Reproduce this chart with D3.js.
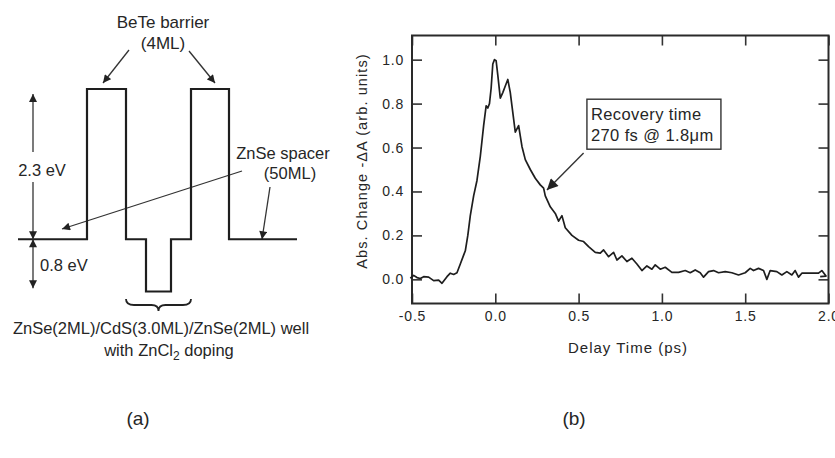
<!doctype html>
<html>
<head>
<meta charset="utf-8">
<title></title>
<style>
body{ margin:0; background:#fff; }
svg{ display:block; }
text{ font-family:"Liberation Sans", Arial, sans-serif; fill:#262626; }
</style>
</head>
<body>
<svg></svg>
<script src="https://cdn.jsdelivr.net/npm/d3@7/dist/d3.min.js"></script>
<script>
var width = 835, height = 458;

// (b) absorption change vs delay time
var delay = [-0.51,-0.49,-0.47,-0.45,-0.43,-0.40,-0.37,-0.34,-0.32,-0.29,-0.27,-0.25,-0.23,-0.21,-0.19,-0.18,-0.165,-0.15,-0.13,-0.11,-0.09,-0.07,-0.055,-0.045,-0.035,-0.025,-0.015,-0.005,0.005,0.015,0.03,0.045,0.06,0.075,0.09,0.10,0.12,0.14,0.16,0.18,0.21,0.24,0.27,0.29,0.30,0.33,0.36,0.38,0.40,0.42,0.46,0.50,0.53,0.56,0.60,0.63,0.65,0.68,0.71,0.73,0.76,0.79,0.82,0.85,0.88,0.91,0.94,0.96,0.99,1.02,1.06,1.10,1.14,1.17,1.20,1.23,1.25,1.28,1.31,1.34,1.38,1.42,1.46,1.50,1.53,1.55,1.58,1.61,1.63,1.65,1.69,1.72,1.75,1.78,1.80,1.82,1.84,1.90,1.94,1.96,1.985,1.95];
var absChange = [0.005,0.018,0.008,0.004,0.012,0.01,-0.006,-0.004,-0.018,0.012,0.028,0.022,0.03,0.07,0.11,0.13,0.2,0.29,0.38,0.45,0.56,0.70,0.79,0.78,0.80,0.87,0.98,1.0,0.995,0.93,0.825,0.85,0.88,0.91,0.85,0.79,0.67,0.70,0.605,0.545,0.50,0.46,0.43,0.415,0.38,0.33,0.30,0.265,0.29,0.235,0.20,0.178,0.172,0.149,0.123,0.119,0.134,0.103,0.123,0.088,0.107,0.081,0.096,0.07,0.04,0.061,0.046,0.066,0.046,0.055,0.032,0.032,0.04,0.03,0.043,0.03,0.01,0.035,0.04,0.03,0.035,0.03,0.02,0.03,0.05,0.04,0.05,0.04,0.0,0.04,0.035,0.02,0.035,0.02,0.04,0.01,0.028,0.028,0.028,0.04,0.015,0.012];
var xTicks = [-0.5,0.0,0.5,1.0,1.5,2.0];
var yTicks = [0.0,0.2,0.4,0.6,0.8,1.0];
var noteLines = ["Recovery time","270 fs @ 1.8\u03bcm"];

// (a) band profile: layer edges (ML-ish units) and band energy (eV)
var layerEdges = [0,69,108,128,153,173,211,279];
var layerEnergy = [0,2.3,0,-0.8,0,2.3,0];

var svg = d3.select('svg').attr('width',width).attr('height',height);

var defs = svg.append('defs');
defs.append('marker')
    .attr('id','head')
    .attr('viewBox','0 0 10 10')
    .attr('refX',10).attr('refY',5)
    .attr('markerUnits','userSpaceOnUse')
    .attr('markerWidth',9).attr('markerHeight',8)
    .attr('orient','auto-start-reverse')
  .append('path').attr('d','M0,0L10,5L0,10z').attr('fill','#222');
defs.append('marker')
    .attr('id','bighead')
    .attr('viewBox','0 0 10 10')
    .attr('refX',10).attr('refY',5)
    .attr('markerUnits','userSpaceOnUse')
    .attr('markerWidth',14).attr('markerHeight',11)
    .attr('orient','auto')
  .append('path').attr('d','M0,0L10,5L0,10z').attr('fill','#222');

/* ---------- panel (a) ---------- */
var pa = svg.append('g');
var posX = d3.scaleLinear().domain([0,279]).range([18,297]);
var eY = d3.scaleLinear().domain([-0.8,2.3]).range([291.5,89]);

var prof = layerEnergy.map(function(e,i){ return [layerEdges[i], e]; });
prof.push([layerEdges[layerEdges.length-1], layerEnergy[layerEnergy.length-1]]);

// spacer arrows go under the band line
pa.append('line').attr('x1',242).attr('y1',171).attr('x2',62).attr('y2',229)
  .attr('stroke','#333').attr('stroke-width',1.3).attr('marker-end','url(#head)');
pa.append('line').attr('x1',270).attr('y1',187).attr('x2',262).attr('y2',eY(0))
  .attr('stroke','#333').attr('stroke-width',1.3).attr('marker-end','url(#head)');

pa.append('path')
  .attr('d', d3.line().x(function(d){return posX(d[0]);}).y(function(d){return eY(d[1]);}).curve(d3.curveStepAfter)(prof))
  .attr('fill','none').attr('stroke','#1e1e1e').attr('stroke-width',2.2);

// BeTe labels + arrows
pa.append('text').attr('x',163).attr('y',28).attr('text-anchor','middle').style('font-size','17px').text('BeTe barrier');
pa.append('text').attr('x',163).attr('y',49).attr('text-anchor','middle').style('font-size','17px').text('(4ML)');
pa.append('line').attr('x1',129).attr('y1',50).attr('x2',posX(layerEdges[1])+16).attr('y2',eY(2.3)-6)
  .attr('stroke','#333').attr('stroke-width',1.3).attr('marker-end','url(#head)');
pa.append('line').attr('x1',189).attr('y1',51).attr('x2',posX(layerEdges[5])+24).attr('y2',eY(2.3)-6)
  .attr('stroke','#333').attr('stroke-width',1.3).attr('marker-end','url(#head)');

// energy arrows
var ax = 33;
pa.append('line').attr('x1',ax).attr('x2',ax).attr('y1',152).attr('y2',eY(2.3)+5)
  .attr('stroke','#333').attr('stroke-width',1.3).attr('marker-end','url(#head)');
pa.append('line').attr('x1',ax).attr('x2',ax).attr('y1',182).attr('y2',eY(0))
  .attr('stroke','#333').attr('stroke-width',1.3).attr('marker-end','url(#head)');
pa.append('line').attr('x1',ax).attr('x2',ax).attr('y1',eY(0)).attr('y2',eY(-0.75))
  .attr('stroke','#333').attr('stroke-width',1.3).attr('marker-start','url(#head)').attr('marker-end','url(#head)');
pa.append('text').attr('x',42).attr('y',176).attr('text-anchor','middle').style('font-size','16.5px').text('2.3 eV');
pa.append('text').attr('x',40).attr('y',271).style('font-size','16.5px').text('0.8 eV');

pa.append('text').attr('x',283).attr('y',159).attr('text-anchor','middle').style('font-size','16.5px').text('ZnSe spacer');
pa.append('text').attr('x',290).attr('y',179).attr('text-anchor','middle').style('font-size','16.5px').text('(50ML)');

// brace under the well
var bx1 = posX(layerEdges[2]), bx2 = posX(layerEdges[5]), bm = (bx1+bx2)/2, by = 299;
pa.append('path')
  .attr('d','M'+bx1+','+by+'Q'+bx1+','+(by+6)+' '+(bx1+8)+','+(by+6)+'L'+(bm-7)+','+(by+6)+'Q'+bm+','+(by+6)+' '+bm+','+(by+12)
      +'Q'+bm+','+(by+6)+' '+(bm+7)+','+(by+6)+'L'+(bx2-8)+','+(by+6)+'Q'+bx2+','+(by+6)+' '+bx2+','+by)
  .attr('fill','none').attr('stroke','#222').attr('stroke-width',1.8);

pa.append('text').attr('x',161).attr('y',334).attr('text-anchor','middle').style('font-size','16.5px').text('ZnSe(2ML)/CdS(3.0ML)/ZnSe(2ML) well');
var t2 = pa.append('text').attr('x',169).attr('y',356).attr('text-anchor','middle').style('font-size','16.5px');
t2.append('tspan').text('with ZnCl');
t2.append('tspan').attr('dy',4).style('font-size','12px').text('2');
t2.append('tspan').attr('dy',-4).text(' doping');

pa.append('text').attr('x',138).attr('y',425).attr('text-anchor','middle').style('font-size','19px').text('(a)');

/* ---------- panel (b) ---------- */
var x = d3.scaleLinear().domain([-0.5,2.0]).range([412,828.5]);
var y = d3.scaleLinear().domain([-0.11,1.11]).range([303.5,35.5]);
var pb = svg.append('g');

function styleAxis(g){
  g.select('.domain').remove();
  g.selectAll('.tick line').attr('stroke','#333').attr('stroke-width',1.6);
  g.selectAll('.tick text').style('font-family','"Liberation Sans", Arial, sans-serif')
    .style('font-size','14px').style('letter-spacing','0.8px').attr('fill','#262626');
}
var fmt = function(d){ return d.toFixed(1); };
pb.append('g').attr('transform','translate(0,303.5)')
  .call(d3.axisBottom(x).tickValues(xTicks).tickFormat(fmt).tickSize(-10).tickPadding(8))
  .call(styleAxis);
pb.append('g').attr('transform','translate(0,35.5)')
  .call(d3.axisTop(x).tickValues(xTicks).tickFormat('').tickSize(-10))
  .call(styleAxis);
pb.append('g').attr('transform','translate(412,0)')
  .call(d3.axisLeft(y).tickValues(yTicks).tickFormat(fmt).tickSize(-10).tickPadding(8))
  .call(styleAxis);
pb.append('g').attr('transform','translate(828.5,0)')
  .call(d3.axisRight(y).tickValues(yTicks).tickFormat('').tickSize(-10))
  .call(styleAxis);

pb.append('rect').attr('x',412).attr('y',35.5).attr('width',416.5).attr('height',268)
  .attr('fill','none').attr('stroke','#2a2a2a').attr('stroke-width',2);

pb.append('path')
  .attr('d', d3.line().x(function(d,i){return x(delay[i]);}).y(function(d){return y(d);})(absChange))
  .attr('fill','none').attr('stroke','#1e1e1e').attr('stroke-width',1.7).attr('stroke-linejoin','round');

// annotation
var bxL = x(0.55), byT = y(0.82);
pb.append('rect').attr('x',bxL).attr('y',byT).attr('width',134).attr('height',50)
  .attr('fill','#fff').attr('stroke','#333').attr('stroke-width',1.4);
pb.selectAll('text.note').data(noteLines).enter().append('text')
  .attr('class','note')
  .attr('x',bxL+4).attr('y',function(d,i){ return byT+21+i*21; })
  .style('font-size','16.5px').style('letter-spacing','0.4px')
  .text(function(d){return d;});
pb.append('line').attr('x1',x(0.53)).attr('y1',y(0.575)).attr('x2',x(0.31)).attr('y2',y(0.407))
  .attr('stroke','#333').attr('stroke-width',1.4).attr('marker-end','url(#bighead)');

pb.append('text').attr('x',628).attr('y',353).attr('text-anchor','middle')
  .style('font-size','15px').style('letter-spacing','1px').text('Delay Time (ps)');
pb.append('text').attr('transform','translate(367,161) rotate(-90)').attr('text-anchor','middle')
  .style('font-size','14.5px').style('letter-spacing','1.1px').text('Abs. Change -\u0394A (arb. units)');

pb.append('text').attr('x',574).attr('y',425).attr('text-anchor','middle').style('font-size','19px').text('(b)');
</script>
</body>
</html>
